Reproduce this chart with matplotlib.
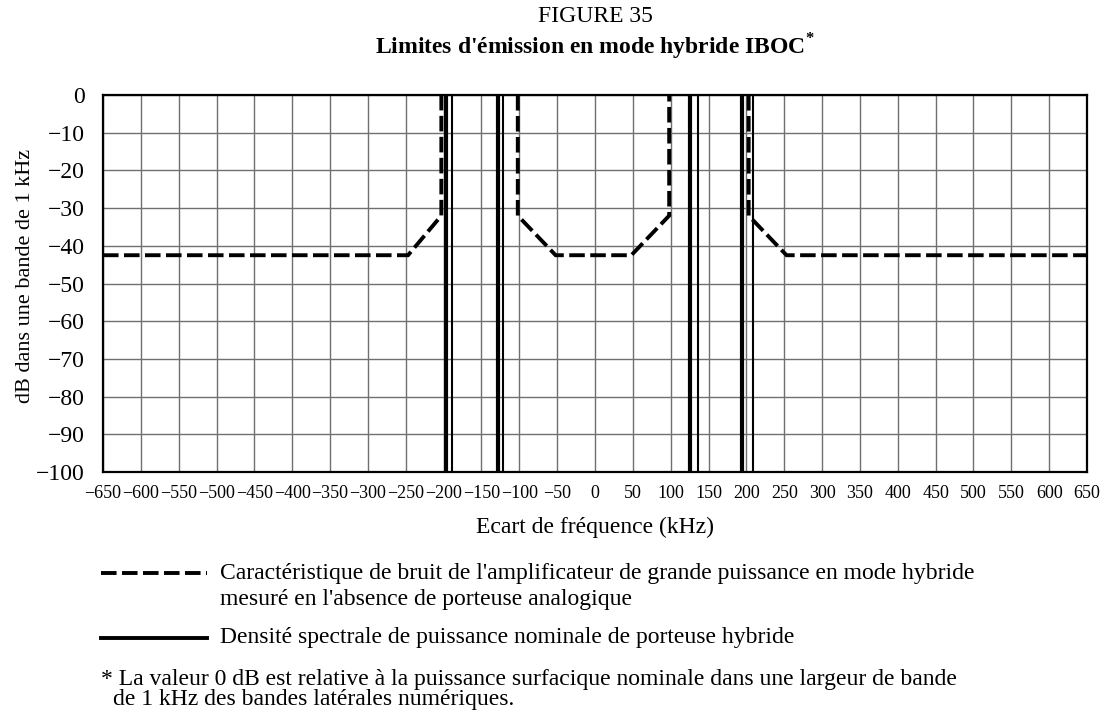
import matplotlib
matplotlib.use("Agg")
import matplotlib.pyplot as plt
from matplotlib.lines import Line2D

plt.rcParams['font.family'] = ['Liberation Serif', 'DejaVu Serif']
plt.rcParams['mathtext.fontset'] = 'custom'
plt.rcParams['mathtext.rm'] = 'Liberation Serif'
plt.rcParams['mathtext.bf'] = 'Liberation Serif:bold'

# Noise characteristic of the high-power amplifier (dB in 1 kHz), three pieces
noise_left_x = [-650, -247, -203, -203]
noise_left_y = [-42.5, -42.5, -32, 0]
noise_mid_x = [-102, -102, -52, 48, 98, 98]
noise_mid_y = [0, -32, -42.5, -42.5, -32, 0]
noise_right_x = [203, 203, 253, 650]
noise_right_y = [0, -32, -42.5, -42.5]

# Nominal hybrid carrier PSD: edges of the digital sidebands
psd_edges_main = [-196.5, -128.5, 125.5, 194]
psd_edges_trace = [-189, -121.5, 136, 208.5]
psd_top, psd_bottom = 0, -100

x_ticks = list(range(-650, 651, 50))
y_ticks = list(range(-100, 1, 10))

W, H = 1103, 710
fig = plt.figure(figsize=(W / 100, H / 100), dpi=100)


def fx(px):
    return px / W


def fy(py):
    return 1 - py / H


ax = fig.add_axes([fx(103), fy(472), (1087 - 103) / W, (472 - 95) / H])
ax.set_xlim(-650, 650)
ax.set_ylim(-100, 0)

ax.set_xticks(x_ticks)
ax.set_yticks(y_ticks)
ax.set_xticklabels([f"{v}".replace("-", "\u2212") for v in x_ticks], fontsize=13)
ax.set_yticklabels([f"{v}".replace("-", "\u2212") for v in y_ticks], fontsize=17)
ax.tick_params(axis='x', length=0, pad=9)
ax.tick_params(axis='y', length=0, pad=13)
ax.grid(True, color='#707070', linewidth=1.0)
ax.set_axisbelow(True)
for s in ax.spines.values():
    s.set_linewidth(1.6)
    s.set_color('black')

dash_kw = dict(color='black', linewidth=2.8, linestyle=(0, (4.0, 1.4)),
               dash_capstyle='butt', dash_joinstyle='miter', solid_joinstyle='miter',
               clip_on=True, zorder=3)
ax.plot(noise_left_x, noise_left_y, **dash_kw)
ax.plot(noise_mid_x, noise_mid_y, **dash_kw)
ax.plot(noise_right_x, noise_right_y, **dash_kw)

ax.vlines(psd_edges_main, psd_bottom, psd_top, colors='black', linewidth=3.0, zorder=4)
ax.vlines(psd_edges_trace, psd_bottom, psd_top, colors='black', linewidth=1.5, zorder=4)

ax.set_ylabel("dB dans une bande de 1 kHz", fontsize=16)
ax.yaxis.set_label_coords((35 - 103) / 984, 0.52)
ax.set_xlabel("Ecart de fréquence (kHz)", fontsize=17)
ax.xaxis.set_label_coords(0.5, -(527 - 472) / 377)
ax.xaxis.label.set_va('center')

fig.text(fx(595), fy(16), "FIGURE 35", ha='center', va='center', fontsize=17)
fig.text(fx(595), fy(47), r"Limites d'émission en mode hybride IBOC$^{\mathbf{*}}$",
         ha='center', va='center', fontsize=17, fontweight='bold')

# Key
fig.add_artist(Line2D([fx(101), fx(207)], [fy(573), fy(573)], color='black',
                      linewidth=2.8, linestyle=(0, (4.0, 1.4)), dash_capstyle='butt'))
fig.text(fx(220), fy(573), "Caractéristique de bruit de l'amplificateur de grande puissance en mode hybride",
         ha='left', va='center', fontsize=17)
fig.text(fx(220), fy(600), "mesuré en l'absence de porteuse analogique",
         ha='left', va='center', fontsize=17)
fig.add_artist(Line2D([fx(101), fx(207)], [fy(638), fy(638)], color='black', linewidth=2.8))
fig.text(fx(220), fy(638), "Densité spectrale de puissance nominale de porteuse hybride",
         ha='left', va='center', fontsize=17)

fig.text(fx(101), fy(679), "* La valeur 0 dB est relative à la puissance surfacique nominale dans une largeur de bande",
         ha='left', va='center', fontsize=17)
fig.text(fx(113), fy(699), "de 1 kHz des bandes latérales numériques.",
         ha='left', va='center', fontsize=17)

fig.savefig("out.png", dpi=100)
